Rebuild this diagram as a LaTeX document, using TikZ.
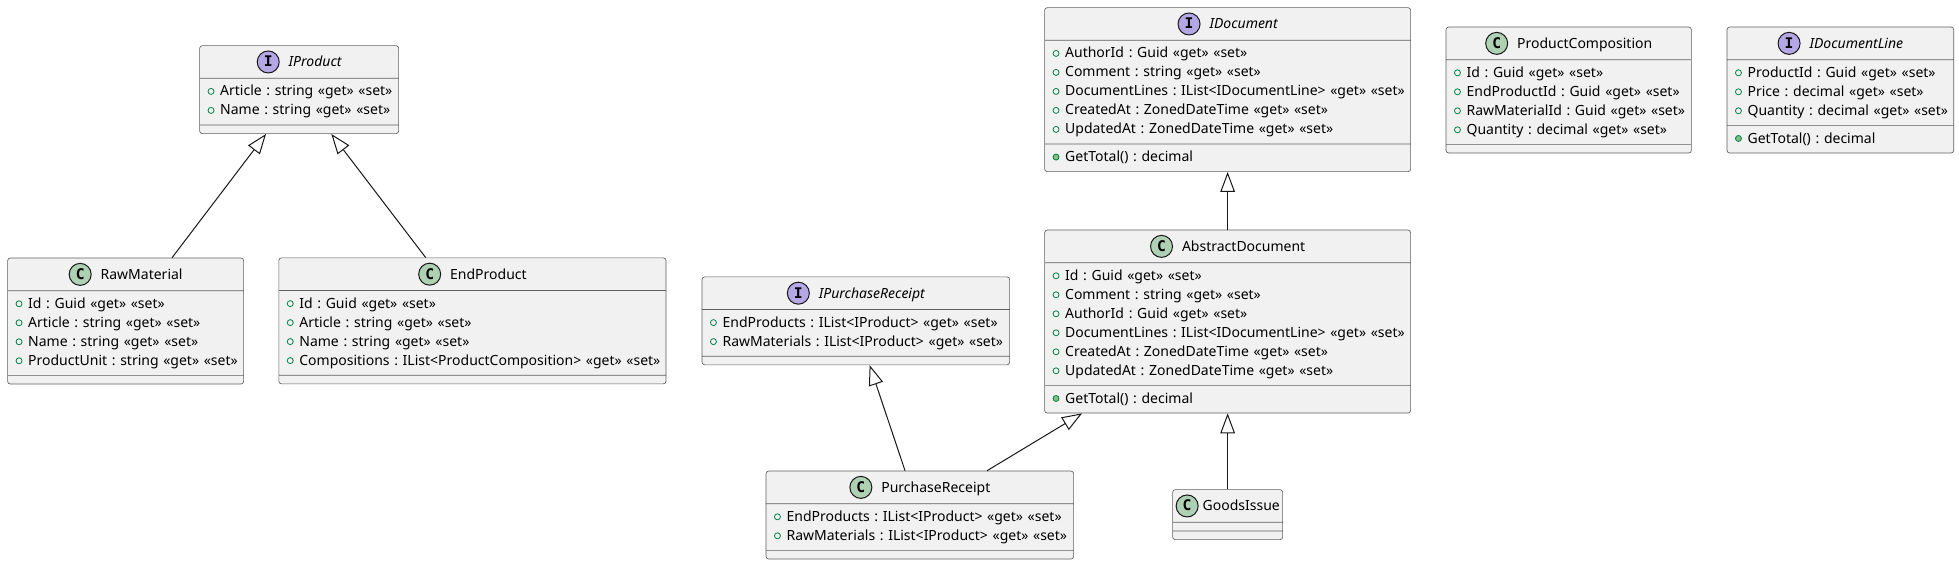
\documentclass[tikz,border=0pt]{standalone}
\usepackage{fontspec}
\setmainfont{Noto Sans}
\newfontfamily\iconfont{DejaVu Sans Mono}
\usetikzlibrary{shapes.multipart}
\usetikzlibrary{arrows.meta}
\usetikzlibrary{calc}

\definecolor{umlline}{HTML}{181818}
\definecolor{umlborder}{HTML}{606060}
\definecolor{umlfill}{HTML}{F1F1F1}
\definecolor{classgreen}{HTML}{ADD1B2}
\definecolor{interfacepurple}{HTML}{B4A7E5}
\definecolor{markgreen}{HTML}{038048}
\definecolor{methodgreen}{HTML}{84BE84}
\setlength{\parskip}{0pt}
\frenchspacing

%% Circled letter of a class header.
\newcommand{\umlicon}[2]{%
  \tikz[baseline=-3.75pt]\draw[umlline,line width=0.75pt,fill=#1] (0,0) circle (8.25pt);%
  \llap{\makebox[17.25pt]{\iconfont\bfseries\fontsize{11}{11}\selectfont #2}}}
%% Header line: icon, then the name.
\newcommand{\umlhead}[4][6.75pt]{%
  \centering\mbox{\rule[-5.25pt]{0pt}{18pt}\umlicon{#2}{#3}\hspace{#1}#4}\par}
%% Markers of fields and methods.
\newcommand{\fieldmark}{\tikz[baseline=-3.4pt]\draw[markgreen,line width=0.6pt] (0,0) circle (2.25pt);}
\newcommand{\methodmark}{\tikz[baseline=-3.4pt]\draw[markgreen,fill=methodgreen,line width=0.6pt] (0,0) circle (2.25pt);}
\newcommand{\fld}[1]{\noindent\mbox{\fieldmark\hspace{4.3pt}#1}\strut\par}
\newcommand{\mth}[1]{\noindent\mbox{\methodmark\hspace{4.3pt}#1}\strut\par}

\begin{document}
\begin{tikzpicture}[x=0.75pt,y=-0.75pt,%%
  classStyle/.style={rectangle split,rectangle split parts=3,%%
    rectangle split empty part height=0pt,rectangle split empty part depth=0pt,%%
    rectangle split empty part width=0pt,%%
    draw=umlborder,fill=umlfill,line width=0.5pt,rounded corners=2pt,%%
    inner xsep=6pt,inner ysep=3pt,text width=#1,align=left,anchor=north west,%%
    font=\fontsize{10.5}{14.25}\selectfont},%%
  extendsStyle/.style={-{Triangle[open,length=15pt,width=11pt]},draw=umlline,line width=0.75pt}%%
]
%%
\path[fill=white,use as bounding box] (0,0) rectangle (1959,562);
%%
%% The product side.
\node[classStyle=137.25pt] (IProduct) at (199.3,45.3)
  {\umlhead{interfacepurple}{I}{\itshape IProduct}
   \nodepart{two}\fld{Article : string «get» «set»}\fld{Name : string «get» «set»}
   \nodepart{three}};
\node[classStyle=165pt] (RawMaterial) at (7.3,257.7)
  {\umlhead{classgreen}{C}{RawMaterial}
   \nodepart{two}\fld{Id : Guid «get» «set»}\fld{Article : string «get» «set»}
   \fld{Name : string «get» «set»}\fld{ProductUnit : string «get» «set»}
   \nodepart{three}};
\node[classStyle=278.4pt] (EndProduct) at (278.5,257.5)
  {\umlhead{classgreen}{C}{EndProduct}
   \nodepart{two}\fld{Id : Guid «get» «set»}\fld{Article : string «get» «set»}
   \fld{Name : string «get» «set»}\fld{Compositions : IList<ProductComposition> «get» «set»}
   \nodepart{three}};
%%
%% The receipts.
\node[classStyle=218.7pt] (IPurchaseReceipt) at (701.7,276.5)
  {\umlhead{interfacepurple}{I}{\itshape IPurchaseReceipt}
   \nodepart{two}\fld{EndProducts : IList<IProduct> «get» «set»}
   \fld{RawMaterials : IList<IProduct> «get» «set»}
   \nodepart{three}};
\node[classStyle=218.7pt] (PurchaseReceipt) at (765.7,470.7)
  {\umlhead{classgreen}{C}{PurchaseReceipt}
   \nodepart{two}\fld{EndProducts : IList<IProduct> «get» «set»}
   \fld{RawMaterials : IList<IProduct> «get» «set»}
   \nodepart{three}};
%%
%% The documents.
\node[classStyle=262.5pt] (IDocument) at (1044.3,7.3)
  {\umlhead{interfacepurple}{I}{\itshape IDocument}
   \nodepart{two}\fld{AuthorId : Guid «get» «set»}\fld{Comment : string «get» «set»}
   \fld{DocumentLines : IList<IDocumentLine> «get» «set»}
   \fld{CreatedAt : ZonedDateTime «get» «set»}\fld{UpdatedAt : ZonedDateTime «get» «set»}
   \nodepart{three}\mth{GetTotal() : decimal}};
\node[classStyle=262.5pt] (AbstractDocument) at (1044.3,229.7)
  {\umlhead{classgreen}{C}{AbstractDocument}
   \nodepart{two}\fld{Id : Guid «get» «set»}\fld{Comment : string «get» «set»}
   \fld{AuthorId : Guid «get» «set»}\fld{DocumentLines : IList<IDocumentLine> «get» «set»}
   \fld{CreatedAt : ZonedDateTime «get» «set»}\fld{UpdatedAt : ZonedDateTime «get» «set»}
   \nodepart{three}\mth{GetTotal() : decimal}};
\node[classStyle=78pt,inner xsep=2.25pt] (GoodsIssue) at (1172.3,489.3)
  {\umlhead[3pt]{classgreen}{C}{GoodsIssue}
   \nodepart{two}
   \nodepart{three}};
%%
%% The lines.
\node[classStyle=172pt] (ProductComposition) at (1445.7,26.7)
  {\umlhead{classgreen}{C}{ProductComposition}
   \nodepart{two}\fld{Id : Guid «get» «set»}\fld{EndProductId : Guid «get» «set»}
   \fld{RawMaterialId : Guid «get» «set»}\fld{Quantity : decimal «get» «set»}
   \nodepart{three}};
\node[classStyle=158pt] (IDocumentLine) at (1726.7,26.7)
  {\umlhead{interfacepurple}{I}{\itshape IDocumentLine}
   \nodepart{two}\fld{ProductId : Guid «get» «set»}\fld{Price : decimal «get» «set»}
   \fld{Quantity : decimal «get» «set»}
   \nodepart{three}\mth{GetTotal() : decimal}};
%%
%% Inheritance.
\draw[extendsStyle] ($(RawMaterial.north)+(46.4,0)$) -- ($(IProduct.south)+(-33.1,0)$);
\draw[extendsStyle] ($(EndProduct.north)+(-46.8,0)$) -- ($(IProduct.south)+(32.2,0)$);
\draw[extendsStyle] (AbstractDocument.north) -- (IDocument.south);
\draw[extendsStyle] ($(PurchaseReceipt.north)+(-14.8,0)$) -- ($(IPurchaseReceipt.south)+(13.8,0)$);
\draw[extendsStyle] ($(PurchaseReceipt.north)+(67.2,0)$) -- ($(AbstractDocument.south)+(-145.6,0)$);
\draw[extendsStyle] (GoodsIssue.north) -- (AbstractDocument.south);
\end{tikzpicture}
\end{document}
